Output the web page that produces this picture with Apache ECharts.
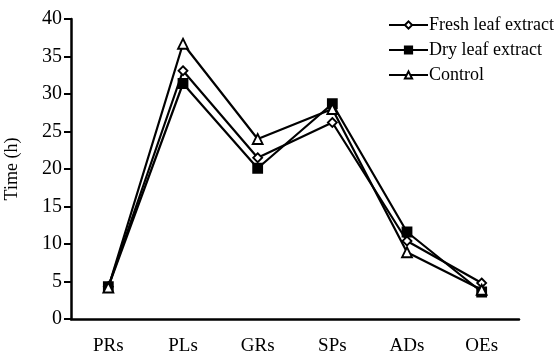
<!DOCTYPE html>
<html><head><meta charset="utf-8">
<script src="https://cdn.jsdelivr.net/npm/echarts@6/dist/echarts.min.js"></script>
<style>html,body{margin:0;padding:0;background:#fff}#c{width:555px;height:360px}</style>
</head><body><div id="c"></div>
<script>
var categories = ['PRs','PLs','GRs','SPs','ADs','OEs'];
var freshLeaf = [4.3, 33.1, 21.5, 26.2, 10.4, 4.8];
var dryLeaf = [4.3, 31.4, 20.1, 28.7, 11.6, 3.6];
var control = [4.2, 36.7, 24.0, 28.0, 8.9, 3.9];
var yTicks = [0,5,10,15,20,25,30,35,40];
var seriesNames = ['Fresh leaf extract','Dry leaf extract','Control'];

var font = 'Liberation Serif';
var chart = echarts.init(document.getElementById('c'));
function mk(name, data, symbol, fill, size){
  return {name:name, type:'line', data:data, symbol:symbol, symbolSize:size,
    lineStyle:{color:'#000', width:2.2}, itemStyle:{color:fill, borderColor:'#000', borderWidth:1.8},
    emphasis:{disabled:true}, animation:false, z: 3};
}
chart.setOption({
  animation:false,
  grid:{left:71, right:36, top:19, bottom:41, containLabel:false, outerBoundsMode:'none'},
  legend:{orient:'vertical', left:383, top:11, itemWidth:39, itemHeight:9, itemGap:7,
    textStyle:{fontFamily:font, fontSize:18, color:'#000', padding:[0,0,0,-4]},
    data:seriesNames},
  xAxis:{type:'category', data:categories, boundaryGap:true,
    axisLine:{lineStyle:{color:'#000', width:2.5}},
    axisTick:{length:9, lineStyle:{width:2}},
    axisLabel:{fontFamily:font, fontSize:19, color:'#000', margin:18}},
  yAxis:{type:'value', min:yTicks[0], max:yTicks[yTicks.length-1], interval:5,
    name:'Time (h)', nameLocation:'middle', nameGap:50,
    nameTextStyle:{fontFamily:font, fontSize:18, color:'#000'},
    splitLine:{show:false},
    axisLine:{show:true, lineStyle:{color:'#000', width:2.5}},
    axisTick:{show:true, length:7, lineStyle:{width:2}},
    axisLabel:{fontFamily:font, fontSize:20, color:'#000', margin:9}},
  series:[
    mk(seriesNames[0], freshLeaf, 'diamond', '#fff', 9),
    mk(seriesNames[1], dryLeaf, 'rect', '#000', 9),
    mk(seriesNames[2], control, 'triangle', '#fff', 10)
  ]
});
</script></body></html>
